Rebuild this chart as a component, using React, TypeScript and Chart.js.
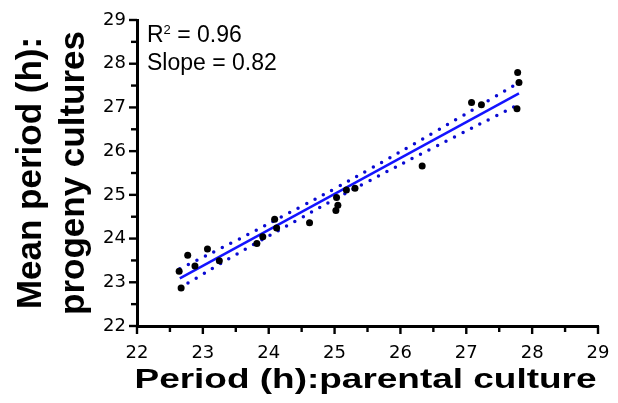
import React, { useEffect, useRef } from 'react';
import { Chart, registerables } from 'chart.js';
Chart.register(...registerables);

// Data
const parentalPeriod = [22.64, 22.67, 22.77, 22.88, 23.07, 23.25, 23.82, 23.91, 24.09, 24.12, 24.62, 25.02, 25.05, 25.03, 25.18, 25.31, 26.33, 27.08, 27.23, 27.78, 27.8, 27.77];
const progenyPeriod = [23.25, 22.87, 23.62, 23.37, 23.76, 23.49, 23.89, 24.04, 24.44, 24.24, 24.36, 24.64, 24.76, 24.94, 25.11, 25.15, 25.66, 27.11, 27.06, 27.8, 27.57, 26.97];
const fitX = [22.65, 27.8];
const fitY = [23.09, 27.32];
const bandX = [22.65, 23.5, 24.5, 25.0, 25.5, 26.5, 27.8];
const bandUpper = [23.31, 23.95, 24.74, 25.14, 25.56, 26.42, 27.57];
const bandLower = [22.87, 23.63, 24.48, 24.9, 25.3, 26.08, 27.07];
const axisMin = 22;
const axisMax = 29;
const xTitle = 'Period (h):parental culture';
const yTitle = ['Mean period (h):', 'progeny cultures'];
const r2Value = '0.96';
const slopeValue = '0.82';

const zip = (xs: number[], ys: number[]) => xs.map((x, i) => ({ x, y: ys[i] }));

const tickPlugin = {
  id: 'axisTicks',
  afterDraw(chart: any) {
    const ctx = chart.ctx;
    const { left, bottom } = chart.chartArea;
    const xs = chart.scales.x;
    const ys = chart.scales.y;
    ctx.save();
    ctx.strokeStyle = '#000';
    ctx.lineWidth = 2.4;
    xs.ticks.forEach((t: any) => {
      const px = xs.getPixelForValue(t.value);
      const len = Number.isInteger(t.value) ? 8 : 6;
      ctx.beginPath();
      ctx.moveTo(px, bottom);
      ctx.lineTo(px, bottom + len);
      ctx.stroke();
    });
    ys.ticks.forEach((t: any) => {
      const py = ys.getPixelForValue(t.value);
      const len = Number.isInteger(t.value) ? 8 : 6;
      ctx.beginPath();
      ctx.moveTo(left, py);
      ctx.lineTo(left - len, py);
      ctx.stroke();
    });
    ctx.restore();
  },
};

// x-axis title, drawn horizontally widened like the reference lettering
const xTitlePlugin = {
  id: 'xTitleWide',
  afterDraw(chart: any) {
    const ctx = chart.ctx;
    const { left, right } = chart.chartArea;
    const cx = (left + right) / 2 - 2;
    ctx.save();
    ctx.font = 'bold 27.5px "Liberation Sans", Arial, sans-serif';
    ctx.fillStyle = '#000';
    ctx.textAlign = 'center';
    ctx.textBaseline = 'alphabetic';
    const w = ctx.measureText(xTitle).width;
    const sx = 462 / w;
    ctx.translate(cx, 388);
    ctx.scale(sx, 1);
    ctx.fillText(xTitle, 0, 0);
    ctx.restore();
  },
};

const annotationPlugin = {
  id: 'statsText',
  afterDraw(chart: any) {
    const ctx = chart.ctx;
    const { left, top } = chart.chartArea;
    const big = '23px "Liberation Sans", Arial, sans-serif';
    const small = '13px "Liberation Sans", Arial, sans-serif';
    ctx.save();
    ctx.fillStyle = '#000';
    ctx.textAlign = 'left';
    ctx.textBaseline = 'alphabetic';
    const x0 = left + 10;
    ctx.font = big;
    ctx.fillText('R', x0, top + 22);
    const wR = ctx.measureText('R').width;
    ctx.font = small;
    ctx.fillText('2', x0 + wR, top + 13.5);
    const w2 = ctx.measureText('2').width;
    ctx.font = big;
    ctx.fillText(' = ' + r2Value, x0 + wR + w2, top + 22);
    ctx.fillText('Slope = ' + slopeValue, x0, top + 50);
    ctx.restore();
  },
};

export default function App() {
  const ref = useRef<HTMLCanvasElement>(null);
  useEffect(() => {
    if (!ref.current) return;
    const chart = new Chart(ref.current, {
      type: 'scatter',
      data: {
        datasets: [
          {
            data: zip(parentalPeriod, progenyPeriod),
            backgroundColor: '#000',
            borderColor: '#000',
            pointRadius: 3.5,
            pointBorderWidth: 0,
          },
          {
            data: zip(fitX, fitY),
            showLine: true,
            borderColor: '#1414ff',
            borderWidth: 2.5,
            pointRadius: 0,
          },
          {
            data: zip(bandX, bandUpper),
            showLine: true,
            borderColor: '#0a0ad2',
            borderWidth: 3.5,
            borderDash: [0, 9.5],
            borderCapStyle: 'round',
            tension: 0.4,
            pointRadius: 0,
          },
          {
            data: zip(bandX, bandLower),
            showLine: true,
            borderColor: '#0a0ad2',
            borderWidth: 3.5,
            borderDash: [0, 9.5],
            borderCapStyle: 'round',
            tension: 0.4,
            pointRadius: 0,
          },
        ],
      } as any,
      options: {
        animation: false,
        responsive: false,
        layout: { padding: { top: 20, right: 20, left: 0, bottom: 0 } },
        plugins: { legend: { display: false }, tooltip: { enabled: false } },
        scales: {
          x: {
            type: 'linear',
            min: axisMin,
            max: axisMax,
            afterFit: (s: any) => { s.height = 77; s.paddingLeft = 0; s.paddingRight = 0; },
            ticks: {
              stepSize: 0.5,
              autoSkip: false,
              maxRotation: 0,
              padding: 17,
              color: '#000',
              font: { family: '"DejaVu Sans"', size: 18 },
              callback: (v: any) => (Number.isInteger(v) ? String(v) : ''),
            },
            grid: { display: false, drawTicks: false },
            border: { display: true, color: '#000', width: 3 },
            title: { display: false, text: xTitle },
          },
          y: {
            type: 'linear',
            min: axisMin,
            max: axisMax,
            afterFit: (s: any) => { s.width = 137; s.paddingTop = 0; s.paddingBottom = 0; },
            ticks: {
              stepSize: 0.5,
              autoSkip: false,
              padding: 11,
              color: '#000',
              font: { family: '"DejaVu Sans"', size: 18 },
              callback: (v: any) => (Number.isInteger(v) ? String(v) : ''),
            },
            grid: { display: false, drawTicks: false },
            border: { display: true, color: '#000', width: 3 },
            title: {
              display: true,
              text: yTitle,
              color: '#000',
              font: { family: '"Liberation Sans"', weight: 'bold', size: 35, lineHeight: 1.25 },
              padding: { top: 9, bottom: 0 },
            },
          },
        },
      } as any,
      plugins: [tickPlugin, xTitlePlugin, annotationPlugin],
    });
    return () => chart.destroy();
  }, []);
  return (
    <div style={{ position: 'absolute', left: 0, top: 0, width: 618, height: 403 }}>
      <canvas ref={ref} width={618} height={403} />
    </div>
  );
}
